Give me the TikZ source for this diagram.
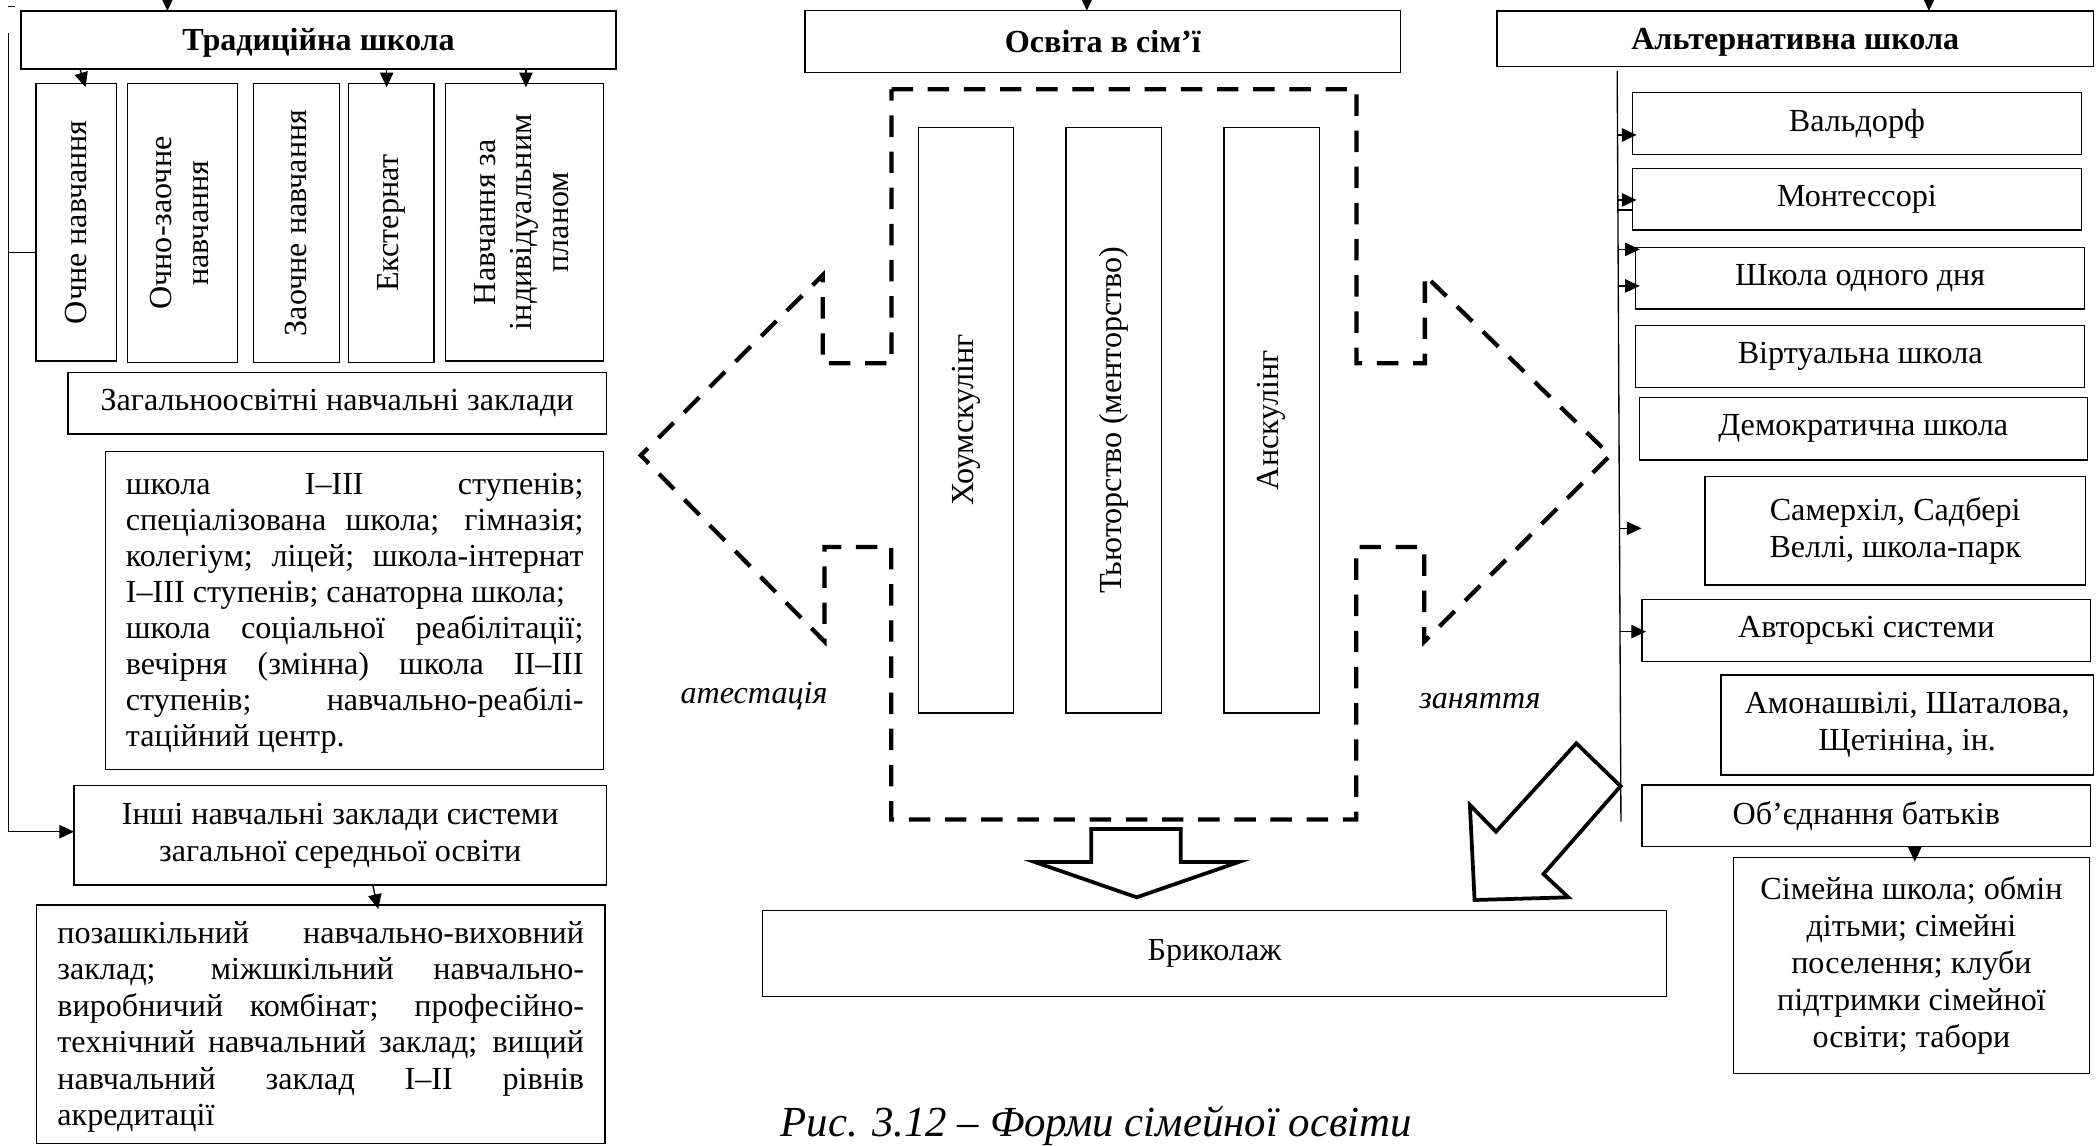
\documentclass[tikz,border=0pt]{standalone}
\usepackage{fontspec}
\setmainfont{Liberation Serif}
\usepackage{graphicx}
\usetikzlibrary{arrows.meta,calc}
% box node from corner coordinates: [options], name, x1, y1, x2, y2, text
\newcommand\bxnode[7][]{\node[bx, #1, minimum width={(#5-#3)*0.5pt}, minimum height={(#6-#4)*0.5pt}] (#2) at ({(#3+#5)/2},{(#4+#6)/2}) {#7};}
\begin{document}
\begin{tikzpicture}[x=0.5pt,y=-0.5pt,
  font=\fontsize{12}{13.8}\selectfont,
  bx/.style={draw, line width=0.5pt, inner sep=0pt, outer sep=0pt, align=center, anchor=center},
  hdr/.style={text height=8pt, text depth=0pt, font=\fontsize{12}{13.8}\selectfont\bfseries},
  arr/.style={line width=0.5pt, -{Triangle[length=5.5pt,width=5pt]}, shorten >=-1.5pt},
  ln/.style={line width=0.5pt},
  dsh/.style={line width=1.6pt, dash pattern=on 8pt off 5.5pt},
  hollow/.style={line width=1.4pt, line join=miter},
  lbl/.style={anchor=base, font=\fontsize{12}{13.8}\selectfont\itshape},
]
\useasboundingbox (0,0) rectangle (1568,855);

% ---------- left column ----------
\bxnode[hdr]{trad}{15.7}{8.2}{460}{51.5}{Традиційна школа}
\bxnode{ochne}{27}{62.2}{87}{269.6}{\rotatebox{90}{Очне навчання}}
\bxnode{ochzao}{95.3}{62.2}{177.3}{270.8}{\rotatebox{90}{\begin{tabular}{@{}c@{}}Очно-заочне\\навчання\end{tabular}}}
\bxnode{zaoch}{189.3}{62.2}{253.3}{270.8}{\rotatebox{90}{Заочне навчання}}
\bxnode{ekst}{260}{62.2}{324}{270.8}{\rotatebox{90}{Екстернат}}
\bxnode{indiv}{332.7}{62.2}{450.7}{269.6}{\rotatebox{90}{\begin{tabular}{@{}c@{}}Навчання за\\індивідуальним\\планом\end{tabular}}}
\bxnode{zahal}{50.7}{278.3}{452.7}{324}{Загальноосвітні навчальні заклади}
\bxnode{shkoly}{79}{337.2}{450.7}{574.4}{\parbox{170.85pt}{\fontsize{12}{13.45}\selectfont\vspace*{2.3pt}%
\makebox[\linewidth][s]{школа I–III ступенів;}\\
\makebox[\linewidth][s]{спеціалізована школа; гімназія;}\\
\makebox[\linewidth][s]{колегіум; ліцей; школа-інтернат}\\
I–III ступенів; санаторна школа;\\
\makebox[\linewidth][s]{школа соціальної реабілітації;}\\
\makebox[\linewidth][s]{вечірня (змінна) школа II–III}\\
\makebox[\linewidth][s]{ступенів; навчально-реабілі-}\\
таційний центр.}}
\bxnode{inshi}{55.3}{586.7}{452.7}{660.8}{Інші навчальні заклади системи\\загальної середньої освіти}
\bxnode{pozash}{27.3}{675.8}{451.7}{853.7}{\parbox{196.65pt}{\fontsize{12}{13.6}\selectfont\vspace*{2pt}%
\makebox[\linewidth][s]{позашкільний навчально-виховний}\\
\makebox[\linewidth][s]{заклад; міжшкільний навчально-}\\
\makebox[\linewidth][s]{виробничий комбінат; професійно-}\\
\makebox[\linewidth][s]{технічний навчальний заклад; вищий}\\
\makebox[\linewidth][s]{навчальний заклад I–II рівнів}\\
акредитації}}

% ---------- middle ----------
\bxnode[hdr]{osvita}{601}{8}{1045.9}{54.3}{Освіта в сім’ї}
\bxnode{houm}{685.9}{95.1}{756.6}{532.3}{\rotatebox{90}{Хоумскулінг}}
\bxnode{tutor}{796}{95.1}{867.2}{532.3}{\rotatebox{90}{Тьюторство (менторство)}}
\bxnode{unsch}{913.9}{95.1}{985}{532.3}{\rotatebox{90}{Анскулінг}}
\bxnode{brik}{569.5}{679.9}{1244.2}{743.9}{Бриколаж}
\node[lbl] (atest) at (563,525) {атестація};
\node[lbl] (zan) at (1105,528.7) {заняття};
\node[anchor=base, font=\fontsize{16}{19}\selectfont\itshape] (cap) at (818.6,848.5) {Рис. 3.12 – Форми сімейної освіти};

% ---------- right column ----------
\bxnode[hdr]{alt}{1117.7}{8.2}{1563.2}{49.8}{Альтернативна школа}
\bxnode{wald}{1219}{69.2}{1554}{115.2}{Вальдорф}
\bxnode{mont}{1219}{125.7}{1554}{171.7}{Монтессорі}
\bxnode{oneday}{1221.4}{184.7}{1556.4}{230.7}{Школа одного дня}
\bxnode{virt}{1221.4}{243.2}{1556.4}{289.2}{Віртуальна школа}
\bxnode{demo}{1223.9}{297}{1558.6}{343.4}{Демократична школа}
\bxnode{samer}{1273.1}{355.9}{1557}{436.8}{Самерхіл, Садбері\\Веллі, школа-парк}
\bxnode{avtor}{1226}{447.5}{1561}{493.8}{Авторські системи}
\bxnode{amon}{1284.9}{504}{1563.2}{578.7}{Амонашвілі, Шаталова,\\Щетініна, ін.}
\bxnode{obyed}{1226}{586.1}{1561}{632.2}{Об’єднання батьків}
\bxnode{simeina}{1294.3}{640.4}{1560.1}{801.4}{Сімейна школа; обмін\\дітьми; сімейні\\поселення; клуби\\підтримки сімейної\\освіти; табори}

% ---------- dashed cross-arrow ----------
\draw[dsh] (665.7,66.7) -- (1012.9,66.7) -- (1012.9,271.3) -- (1063.9,271.3) -- (1063.9,205.5)
  -- (1202.3,340) -- (1063.5,479) -- (1063.5,408.4) -- (1012.7,408.4) -- (1012.7,611.9)
  -- (665.4,611.9) -- (665.4,408.4) -- (615.6,408.4) -- (615.6,479) -- (478.4,340)
  -- (614.3,205.5) -- (614.3,271.3) -- (665.7,271.3) -- cycle;

% ---------- hollow block arrows ----------
\draw[hollow] (814.7,619) -- (881.7,619) -- (881.7,643.7) -- (924.7,643.7) -- (848.7,670)
  -- (772.8,643.7) -- (814.7,643.7) -- cycle;
\draw[hollow] (1177,555) -- (1210,587) -- (1152.5,652.6) -- (1171,670) -- (1101,672)
  -- (1097.5,601) -- (1117,621) -- cycle;

% ---------- connectors: top ----------
\coordinate (t1) at (125,-6);
\coordinate (t2) at (811.5,-6);
\coordinate (t3) at (1440.3,-6);
\draw[arr, shorten >=0pt] (t1) -- (t1 |- trad.north);
\draw[arr, shorten >=0pt] (t2) -- (t2 |- osvita.north);
\draw[arr, shorten >=0pt] (t3) -- (t3 |- alt.north);
\coordinate (tl1) at (6.2,5);
\coordinate (tl2) at (11.5,5);
\draw[ln] (tl1) -- (tl2);

% ---------- connectors: left ----------
\coordinate (ltop) at (6.2,24.4);
\coordinate (lbot) at (6.2,621);
\coordinate (lbr) at (6.2,188.4);
\draw[ln] (ltop) -- (lbot);
\draw[ln] (lbr) -- (lbr -| ochne.west);
\draw[arr, shorten >=0pt] (lbot) -- (lbot -| inshi.west);
\draw[arr] ($(trad.south west)+(44,0)$) -- ($(ochne.north west)+(36,0)$);
\draw[arr] ($(trad.south west)+(273,0)$) -- ($(ekst.north west)+(28.7,0)$);
\draw[arr] ($(trad.south west)+(377,0)$) -- ($(indiv.north west)+(60,0)$);
\draw[arr] ($(inshi.south west)+(223,0)$) -- ($(pozash.north west)+(254.4,0)$);

% ---------- connectors: right ----------
\coordinate (rtop) at (1207.5,53);
\coordinate (rbot) at (1210.3,613.5);
\draw[ln] (rtop) -- (rbot);
\coordinate (ra1) at (1207.8,100.8);
\coordinate (ra2) at (1208,149.3);
\coordinate (ra3) at (1208,156.8);
\coordinate (ra4) at (1208.2,186.2);
\coordinate (ra5) at (1208.3,213.5);
\coordinate (ra6) at (1209.5,394.5);
\coordinate (ra6e) at (1225.7,394.5);
\coordinate (ra7) at (1209.9,471.6);
\draw[arr] (ra1) -- (ra1 -| wald.west);
\draw[arr] (ra2) -- (ra2 -| mont.west);
\draw[ln] (ra3) -- (ra3 -| mont.west);
\draw[arr] (ra4) -- (ra4 -| oneday.west);
\draw[arr] (ra5) -- (ra5 -| oneday.west);
\draw[arr, shorten >=0pt] (ra6) -- (ra6e);
\draw[arr] (ra7) -- (ra7 -| avtor.west);
\draw[arr] ($(obyed.south west)+(203.7,0)$) -- ($(simeina.north west)+(135.4,0)$);
\end{tikzpicture}
\end{document}
